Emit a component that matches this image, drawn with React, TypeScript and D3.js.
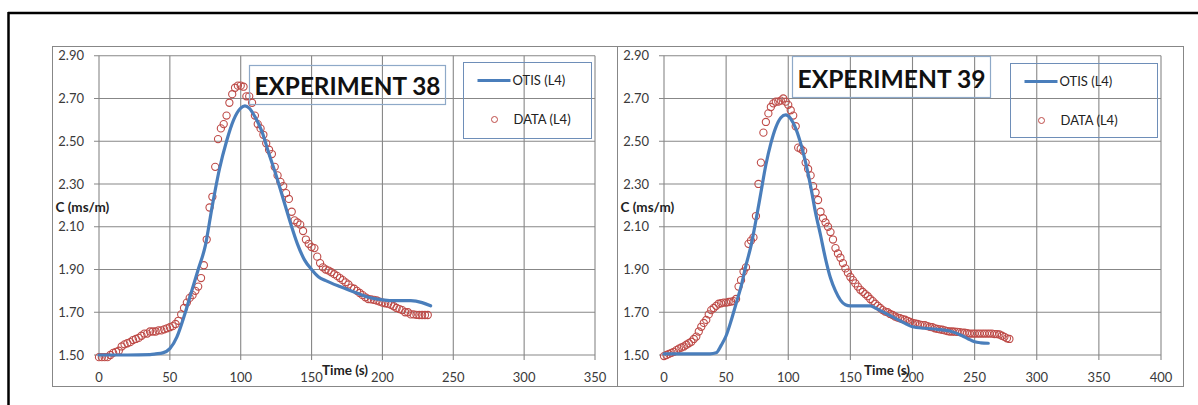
import * as d3 from "d3";

// conductivity data, one reading every STEP seconds starting at t = 0
const STEP = 2;
const exp38Data = [
  1.49, 1.49, 1.49, 1.49, 1.5, 1.51, 1.515, 1.52, 1.54, 1.55,
  1.555, 1.56, 1.57, 1.575, 1.58, 1.59, 1.6, 1.6, 1.61, 1.61,
  1.61, 1.615, 1.615, 1.62, 1.625, 1.63, 1.635, 1.645, 1.66, 1.69,
  1.72, 1.745, 1.767, 1.78, 1.8, 1.82, 1.86, 1.92, 2.04, 2.19,
  2.24, 2.38, 2.51, 2.56, 2.58, 2.62, 2.68, 2.72, 2.75, 2.76,
  2.76, 2.755, 2.71, 2.71, 2.68, 2.62, 2.58, 2.56, 2.53, 2.49,
  2.46, 2.44, 2.38, 2.34, 2.31, 2.29, 2.257, 2.23, 2.17, 2.13,
  2.12, 2.11, 2.08, 2.04, 2.02, 2.005, 2.0, 1.96, 1.93, 1.91,
  1.9, 1.895, 1.887, 1.878, 1.87, 1.86, 1.85, 1.84, 1.83, 1.815,
  1.81, 1.8, 1.79, 1.78, 1.77, 1.762, 1.76, 1.758, 1.755, 1.75,
  1.745, 1.742, 1.74, 1.735, 1.728, 1.72, 1.715, 1.71, 1.7, 1.7,
  1.69, 1.69, 1.688, 1.687, 1.687, 1.687, 1.687,
];
const exp39Data = [
  1.495, 1.5, 1.505, 1.51, 1.515, 1.523, 1.53, 1.535, 1.54, 1.548,
  1.555, 1.562, 1.575, 1.586, 1.61, 1.632, 1.65, 1.664, 1.69, 1.71,
  1.72, 1.73, 1.74, 1.742, 1.745, 1.745, 1.748, 1.75, 1.752, 1.762,
  1.82, 1.85, 1.89, 1.91, 2.02, 2.035, 2.05, 2.15, 2.3, 2.4,
  2.54, 2.59, 2.63, 2.66, 2.677, 2.685, 2.685, 2.69, 2.7, 2.685,
  2.67, 2.645, 2.62, 2.57, 2.47, 2.465, 2.455, 2.4, 2.37, 2.34,
  2.29, 2.26, 2.225, 2.17, 2.14, 2.12, 2.1, 2.075, 2.04, 2.0,
  1.975, 1.955, 1.93, 1.905, 1.885, 1.865, 1.85, 1.835, 1.82, 1.805,
  1.795, 1.785, 1.775, 1.762, 1.752, 1.74, 1.73, 1.72, 1.71, 1.703,
  1.7, 1.692, 1.687, 1.68, 1.675, 1.672, 1.668, 1.665, 1.66, 1.655,
  1.65, 1.648, 1.645, 1.642, 1.64, 1.64, 1.635, 1.632, 1.63, 1.625,
  1.622, 1.62, 1.618, 1.615, 1.612, 1.61, 1.61, 1.609, 1.608, 1.607,
  1.605, 1.604, 1.602, 1.6, 1.6, 1.6, 1.6, 1.6, 1.6, 1.6,
  1.6, 1.6, 1.6, 1.598, 1.598, 1.596, 1.59, 1.585, 1.578, 1.575,
];

// OTIS model curves
const otis38Time = [
  0, 20, 36, 40, 45, 50, 55, 60, 65, 70, 75, 80, 85, 90, 95, 100, 103, 106, 110, 115,
  120, 125, 130, 135, 140, 145, 150, 155, 160, 170, 180, 190, 200, 210, 220, 228, 234,
];
const otis38C = [
  1.5, 1.5, 1.502, 1.505, 1.51, 1.53, 1.585, 1.68, 1.79, 1.9, 2.01, 2.2, 2.37, 2.5, 2.6, 2.655, 2.665, 2.655, 2.615, 2.545,
  2.44, 2.34, 2.23, 2.12, 2.02, 1.945, 1.9, 1.865, 1.848, 1.82, 1.795, 1.77, 1.758, 1.754, 1.754, 1.745, 1.73,
];
const otis39Time = [
  0, 20, 37, 42, 46, 50, 54, 58, 62, 66, 70, 74, 78, 82, 86, 90, 94, 98, 102, 106,
  110, 114, 118, 122, 126, 130, 134, 138, 142, 146, 150, 155, 160, 166, 170, 175, 180, 185, 190, 195,
  200, 210, 220, 230, 240, 245, 250, 255, 261,
];
const otis39C = [
  1.505, 1.505, 1.505, 1.51, 1.545, 1.59, 1.66, 1.74, 1.82, 1.92, 2.01, 2.13, 2.26, 2.39, 2.49, 2.565, 2.61, 2.623, 2.605, 2.56,
  2.49, 2.4, 2.29, 2.165, 2.06, 1.95, 1.86, 1.8, 1.757, 1.735, 1.73, 1.73, 1.73, 1.73, 1.72, 1.705, 1.69, 1.675, 1.66, 1.645,
  1.632, 1.625, 1.62, 1.612, 1.59, 1.575, 1.562, 1.557, 1.555,
];

const yTicks = [1.5, 1.7, 1.9, 2.1, 2.3, 2.5, 2.7, 2.9];
const xTicks38 = [0, 50, 100, 150, 200, 250, 300, 350];
const xTicks39 = [0, 50, 100, 150, 200, 250, 300, 350, 400];

const FONT = "Lato, 'Open Sans', sans-serif";
const BLUE = "#4A7EBB";
const RED = "#BE4B48";
const GRID = "#878787";
const TEXT = "#3a3a3a";

function Panel({
  box, plotLeft, plotRight, xTicks, otisT, otisC, data, title, titleBox, legend, timeX,
}: any) {
  const top = 55.7;
  const bottom = 355;
  const x = d3.scaleLinear().domain([0, xTicks[xTicks.length - 1]]).range([plotLeft, plotRight]);
  const y = d3.scaleLinear().domain([1.5, 2.9]).range([bottom, top]);
  const line = d3
    .line<number>()
    .x((_, i) => x(otisT[i]))
    .y((d) => y(d))
    .curve(d3.curveMonotoneX);

  return (
    <g>
      <rect x={box.x} y={box.y} width={box.w} height={box.h} fill="#fff" stroke={GRID} strokeWidth={1} />
      {/* grid */}
      <g stroke={GRID} strokeWidth={1.1}>
        {yTicks.map((t) => (
          <line key={"h" + t} x1={plotLeft - 5} x2={plotRight} y1={y(t)} y2={y(t)} />
        ))}
        {xTicks.map((t: number) => (
          <line key={"v" + t} x1={x(t)} x2={x(t)} y1={top} y2={bottom + 5} />
        ))}
      </g>
      {/* tick labels */}
      <g fontFamily={FONT} fontSize={13} fill={TEXT}>
        {yTicks.map((t) => (
          <text key={"yl" + t} x={plotLeft - 15} y={y(t)} dy="0.35em" textAnchor="end">
            {d3.format(".2f")(t)}
          </text>
        ))}
        {xTicks.map((t: number) => (
          <text key={"xl" + t} x={x(t)} y={382} textAnchor="middle">
            {t}
          </text>
        ))}
      </g>
      <text x={box.x + 3} y={212} fontFamily={FONT} fontSize={13.5} fontWeight="bold" fill="#222">
        C (ms/m)
      </text>
      {/* data */}
      <g fill="none" stroke={RED} strokeWidth={1.1}>
        {data.map((d: number, i: number) => (
          <circle key={i} cx={x(i * STEP)} cy={y(d)} r={3.6} />
        ))}
      </g>
      <path d={line(otisC) ?? ""} fill="none" stroke={BLUE} strokeWidth={3.2} strokeLinecap="round" />
      <text x={timeX} y={375} fontFamily={FONT} fontSize={13.5} fontWeight="bold" fill="#222">
        Time (s)
      </text>
      {/* title */}
      <rect x={titleBox.x} y={titleBox.y} width={titleBox.w} height={titleBox.h} fill="none" stroke="#8EA9C8" strokeWidth={1.2} />
      <text
        x={titleBox.x + 5}
        y={titleBox.y + titleBox.h - 10}
        fontFamily={FONT}
        fontSize={24}
        fontWeight="bold"
        fill="#111"
        textLength={titleBox.w - 10}
        lengthAdjust="spacingAndGlyphs"
      >
        {title}
      </text>
      {/* legend */}
      <rect x={legend.x} y={legend.y} width={legend.w} height={legend.h} fill="none" stroke="#6E8EB8" strokeWidth={1} />
      <line x1={legend.x + 14} x2={legend.x + 47} y1={legend.y + 18} y2={legend.y + 18} stroke={BLUE} strokeWidth={3.2} />
      <text x={legend.x + 49} y={legend.y + 22.5} fontFamily={FONT} fontSize={13} fill="#222">
        OTIS (L4)
      </text>
      <circle cx={legend.x + 31} cy={legend.y + 57} r={3} fill="none" stroke={RED} strokeWidth={1} />
      <text x={legend.x + 50} y={legend.y + 61.5} fontFamily={FONT} fontSize={13} fill="#222">
        DATA (L4)
      </text>
    </g>
  );
}

export default function App() {
  return (
    <svg width={1198} height={405} style={{ position: "absolute", left: 0, top: 0, background: "#fff" }}>
      <rect width={1198} height={405} fill="#fff" />
      <line x1={8.5} x2={8.5} y1={12} y2={405} stroke="#000" strokeWidth={2.5} />
      <line x1={8} x2={1198} y1={13} y2={13} stroke="#000" strokeWidth={2.5} />
      <Panel
        box={{ x: 52.5, y: 46.5, w: 565, h: 340 }}
        plotLeft={99}
        plotRight={595}
        xTicks={xTicks38}
        otisT={otis38Time}
        otisC={otis38C}
        data={exp38Data}
        title="EXPERIMENT 38"
        titleBox={{ x: 249.5, y: 65.5, w: 196, h: 39 }}
        legend={{ x: 463.5, y: 62.5, w: 128, h: 76 }}
        timeX={322}
      />
      <Panel
        box={{ x: 617.5, y: 46.5, w: 566, h: 340 }}
        plotLeft={664}
        plotRight={1161}
        xTicks={xTicks39}
        otisT={otis39Time}
        otisC={otis39C}
        data={exp39Data}
        title="EXPERIMENT 39"
        titleBox={{ x: 792.5, y: 56.5, w: 198, h: 41 }}
        legend={{ x: 1010.5, y: 63.5, w: 147, h: 74 }}
        timeX={864}
      />
    </svg>
  );
}
